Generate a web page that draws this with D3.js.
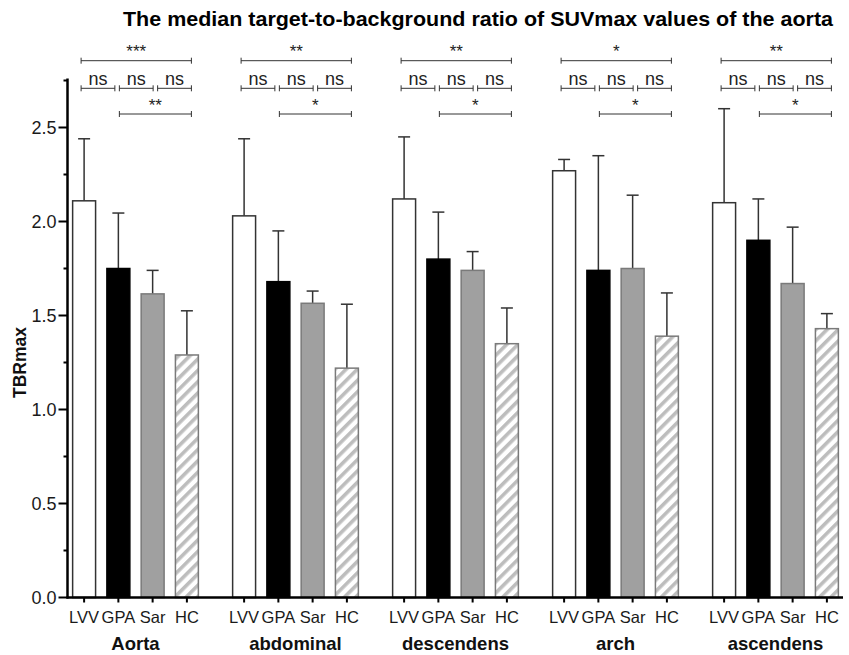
<!DOCTYPE html>
<html>
<head>
<meta charset="utf-8">
<script src="https://cdn.jsdelivr.net/npm/d3@7"></script>
<style>
  body { margin: 0; background: #fff; }
  svg { display: block; font-family: "Liberation Sans", Arial, sans-serif; }
</style>
</head>
<body>
<svg id="chart" width="849" height="655"></svg>
<script>
const groups = ["Aorta", "abdominal", "descendens", "arch", "ascendens"];
const categories = ["LVV", "GPA", "Sar", "HC"];

// medians per category, one value per group
const lvvMedian = [2.11, 2.03, 2.12, 2.27, 2.10];
const gpaMedian = [1.75, 1.68, 1.80, 1.74, 1.90];
const sarMedian = [1.615, 1.565, 1.74, 1.75, 1.67];
const hcMedian = [1.29, 1.22, 1.35, 1.39, 1.43];

// upper end of the error bar
const lvvUpper = [2.44, 2.44, 2.45, 2.33, 2.60];
const gpaUpper = [2.045, 1.95, 2.05, 2.35, 2.12];
const sarUpper = [1.74, 1.63, 1.84, 2.14, 1.97];
const hcUpper = [1.525, 1.56, 1.54, 1.62, 1.51];

const yTicks = [0, 0.5, 1.0, 1.5, 2.0, 2.5];
const yMinorTicks = [0.25, 0.75, 1.25, 1.75, 2.25, 2.75];

// significance labels per group
const topStars = ["***", "**", "**", "*", "**"];   // LVV vs HC
const lowStars = ["**", "*", "*", "*", "*"];        // GPA vs HC
const pairLabels = ["ns", "ns", "ns"];              // neighbours

const medians = [lvvMedian, gpaMedian, sarMedian, hcMedian];
const uppers = [lvvUpper, gpaUpper, sarUpper, hcUpper];

const rows = [];
groups.forEach((g, gi) => {
  categories.forEach((c, ci) => {
    rows.push({ group: g, cat: c, value: medians[ci][gi], upper: uppers[ci][gi] });
  });
});

const svg = d3.select("#chart");

const x0 = d3.scaleBand()
  .domain(groups)
  .range([55.5, 855.5]);

const x1 = d3.scaleBand()
  .domain(categories)
  .range([0, x0.bandwidth()])
  .paddingInner(0.33)
  .paddingOuter(0.5);

const y = d3.scaleLinear()
  .domain([0, 2.5])
  .range([597.5, 127.5]);

const axisLeft = 67.5;
const cx = d => x0(d.group) + x1(d.cat) + x1.bandwidth() / 2;

// hatch for HC
const defs = svg.append("defs");
const pat = defs.append("pattern")
  .attr("id", "hatch")
  .attr("patternUnits", "userSpaceOnUse")
  .attr("width", 8)
  .attr("height", 8)
  .attr("patternTransform", "rotate(45)");
pat.append("rect").attr("width", 8).attr("height", 8).attr("fill", "#fff");
pat.append("rect").attr("x", 0).attr("width", 3.6).attr("height", 8).attr("fill", "#bdbdbd");

const fills = { LVV: "#ffffff", GPA: "#000000", Sar: "#a0a0a0", HC: "url(#hatch)" };
const strokes = { LVV: "#333333", GPA: "#000000", Sar: "#7a7a7a", HC: "#7a7a7a" };

// error bars (drawn first, bars sit on top)
const err = svg.append("g").attr("class", "errors")
  .selectAll("g")
  .data(rows)
  .enter()
  .append("g")
  .attr("stroke", "#333")
  .attr("stroke-width", 1.5);

err.append("line")
  .attr("x1", cx).attr("x2", cx)
  .attr("y1", d => y(d.value))
  .attr("y2", d => y(d.upper));

err.append("line")
  .attr("x1", d => cx(d) - 6).attr("x2", d => cx(d) + 6)
  .attr("y1", d => y(d.upper))
  .attr("y2", d => y(d.upper));

svg.append("g").attr("class", "bars")
  .selectAll("rect")
  .data(rows)
  .enter()
  .append("rect")
  .attr("x", d => x0(d.group) + x1(d.cat))
  .attr("y", d => y(d.value))
  .attr("width", x1.bandwidth())
  .attr("height", d => y(0) - y(d.value))
  .attr("fill", d => fills[d.cat])
  .attr("stroke", d => strokes[d.cat])
  .attr("stroke-width", 1.5);

// y axis
const yAxis = svg.append("g");
yAxis.append("line")
  .attr("x1", axisLeft).attr("x2", axisLeft)
  .attr("y1", y(0) + 1).attr("y2", y(2.76))
  .attr("stroke", "#000").attr("stroke-width", 2.5);

yAxis.selectAll(".major")
  .data(yTicks)
  .enter()
  .append("line")
  .attr("x1", axisLeft - 9).attr("x2", axisLeft)
  .attr("y1", d => y(d)).attr("y2", d => y(d))
  .attr("stroke", "#000").attr("stroke-width", 2);

yAxis.selectAll(".minor")
  .data(yMinorTicks)
  .enter()
  .append("line")
  .attr("x1", axisLeft - 4).attr("x2", axisLeft)
  .attr("y1", d => y(d)).attr("y2", d => y(d))
  .attr("stroke", "#000").attr("stroke-width", 2);

yAxis.selectAll("text")
  .data(yTicks)
  .enter()
  .append("text")
  .attr("x", axisLeft - 11)
  .attr("y", d => y(d) + 6.5)
  .attr("text-anchor", "end")
  .style("font-size", "18px")
  .style("fill", "#1a1a1a")
  .text(d => d.toFixed(1));

svg.append("text")
  .attr("transform", `translate(26,${y(1.25)}) rotate(-90)`)
  .attr("text-anchor", "middle")
  .style("font-size", "17.5px")
  .style("font-weight", "bold")
  .style("fill", "#111")
  .text("TBRmax");

// x axis
svg.append("line")
  .attr("x1", axisLeft - 1).attr("x2", 843)
  .attr("y1", y(0)).attr("y2", y(0))
  .attr("stroke", "#000").attr("stroke-width", 2.5);

svg.append("g").selectAll("line")
  .data(rows)
  .enter()
  .append("line")
  .attr("x1", cx).attr("x2", cx)
  .attr("y1", y(0)).attr("y2", y(0) + 5)
  .attr("stroke", "#000").attr("stroke-width", 2);

svg.append("g").selectAll("text")
  .data(rows)
  .enter()
  .append("text")
  .attr("x", cx)
  .attr("y", 623)
  .attr("text-anchor", "middle")
  .style("font-size", "16.5px")
  .style("fill", "#1a1a1a")
  .text(d => d.cat);

svg.append("g").selectAll("text")
  .data(groups)
  .enter()
  .append("text")
  .attr("x", d => x0(d) + x0.bandwidth() / 2)
  .attr("y", 650)
  .attr("text-anchor", "middle")
  .style("font-size", "18.5px")
  .style("font-weight", "bold")
  .style("fill", "#111")
  .text(d => d);

// significance brackets
const bracket = (g, xa, xb, yy) => {
  g.append("line").attr("x1", xa).attr("x2", xb).attr("y1", yy).attr("y2", yy);
  g.append("line").attr("x1", xa).attr("x2", xa).attr("y1", yy - 3).attr("y2", yy + 3);
  g.append("line").attr("x1", xb).attr("x2", xb).attr("y1", yy - 3).attr("y2", yy + 3);
};

groups.forEach((grp, gi) => {
  const g = svg.append("g").attr("stroke", "#333").attr("stroke-width", 1);
  const c = cat => x0(grp) + x1(cat) + x1.bandwidth() / 2;
  const start = c("LVV") - 3;
  const end = c("HC") + 4.5;
  bracket(g, start, end, 60.7);
  svg.append("text")
    .attr("x", (start + end) / 2).attr("y", 57)
    .attr("text-anchor", "middle")
    .style("font-size", "17px").style("fill", "#222")
    .text(topStars[gi]);

  const gap = 4.5;
  const seg = (end - start - 2 * gap) / 3;
  pairLabels.forEach((lab, k) => {
    const a = start + k * (seg + gap);
    bracket(g, a, a + seg, 88.3);
    svg.append("text")
      .attr("x", a + seg / 2).attr("y", 85)
      .attr("text-anchor", "middle")
      .style("font-size", "18px").style("fill", "#222")
      .text(lab);
  });

  const lowStart = start + seg + gap;
  bracket(g, lowStart, end, 114);
  svg.append("text")
    .attr("x", (lowStart + end) / 2).attr("y", 111)
    .attr("text-anchor", "middle")
    .style("font-size", "17px").style("fill", "#222")
    .text(lowStars[gi]);
});

// title
svg.append("text")
  .attr("x", 478)
  .attr("y", 26)
  .attr("text-anchor", "middle")
  .attr("textLength", 710)
  .attr("lengthAdjust", "spacingAndGlyphs")
  .style("font-size", "21px")
  .style("font-weight", "bold")
  .style("fill", "#000")
  .text("The median target-to-background ratio of SUVmax values of the aorta");
</script>
</body>
</html>
